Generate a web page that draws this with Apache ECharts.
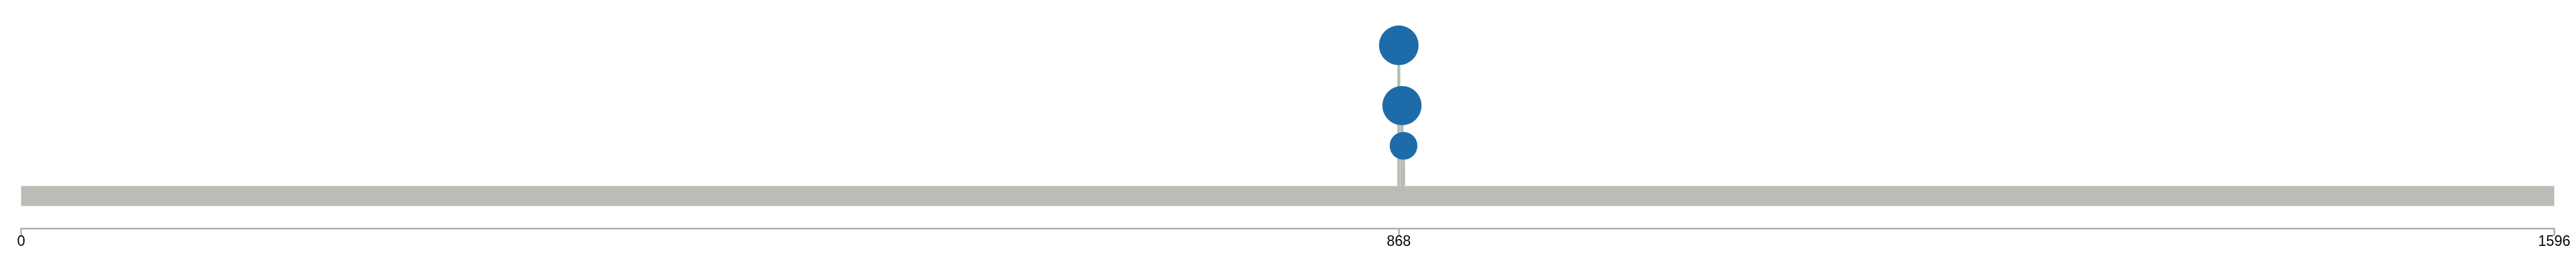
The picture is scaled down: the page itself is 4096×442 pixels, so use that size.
<!DOCTYPE html>
<html><head><meta charset="utf-8">
<script src="https://cdn.jsdelivr.net/npm/echarts@6/dist/echarts.min.js"></script>
<style>html,body{margin:0;padding:0;background:#fff}#c{width:4096px;height:442px}</style>
</head><body><div id="c"></div>
<script>
const proteinLength = 1596;
const positions = [868, 870, 871];
const counts = [7, 4, 2];
const tickValues = [0, 868, 1596];

const points = positions.map((p, i) => [p, counts[i]]);
const chart = echarts.init(document.getElementById('c'), null, {renderer: 'canvas'});
chart.setOption({
  animation: false,
  backgroundColor: '#ffffff',
  grid: {left: 33.6, right: 34.6, top: 8.2, bottom: 114.4},
  xAxis: {
    type: 'value', min: 0, max: proteinLength, offset: 36,
    splitLine: {show: false},
    axisLine: {show: true, onZero: false, lineStyle: {color: '#ababab', width: 2.5}},
    axisTick: {show: true, customValues: tickValues, length: 11.5, lineStyle: {color: '#ababab', width: 2.5}},
    axisLabel: {customValues: tickValues, fontSize: 23, color: '#000', fontFamily: 'Liberation Sans, Arial, sans-serif', margin: 10,
      formatter: function (v) { return String(v); }}
  },
  yAxis: {type: 'value', min: -1, max: 9, show: false},
  series: [
    {
      type: 'custom', z: 1,
      data: [[0, proteinLength]],
      renderItem: function (params, api) {
        const p0 = api.coord([api.value(0), 0]);
        const p1 = api.coord([api.value(1), -1]);
        return {type: 'rect', shape: {x: p0[0], y: p0[1], width: p1[0] - p0[0], height: p1[1] - p0[1]}, style: {fill: '#babdb6'}};
      }
    },
    {
      type: 'custom', z: 2,
      data: points,
      renderItem: function (params, api) {
        const top = api.coord([api.value(0), api.value(1)]);
        const base = api.coord([api.value(0), 0]);
        return {type: 'rect', shape: {x: top[0] - 2.45, y: top[1], width: 4.9, height: base[1] - top[1]}, style: {fill: '#babdb6'}};
      }
    },
    {
      type: 'scatter', z: 3,
      data: points,
      symbolSize: function (v) { return Math.min(31.2 * Math.sqrt(v[1]), 63); },
      itemStyle: {color: '#1d6ca9', opacity: 1}
    }
  ]
});
</script>
</body></html>
